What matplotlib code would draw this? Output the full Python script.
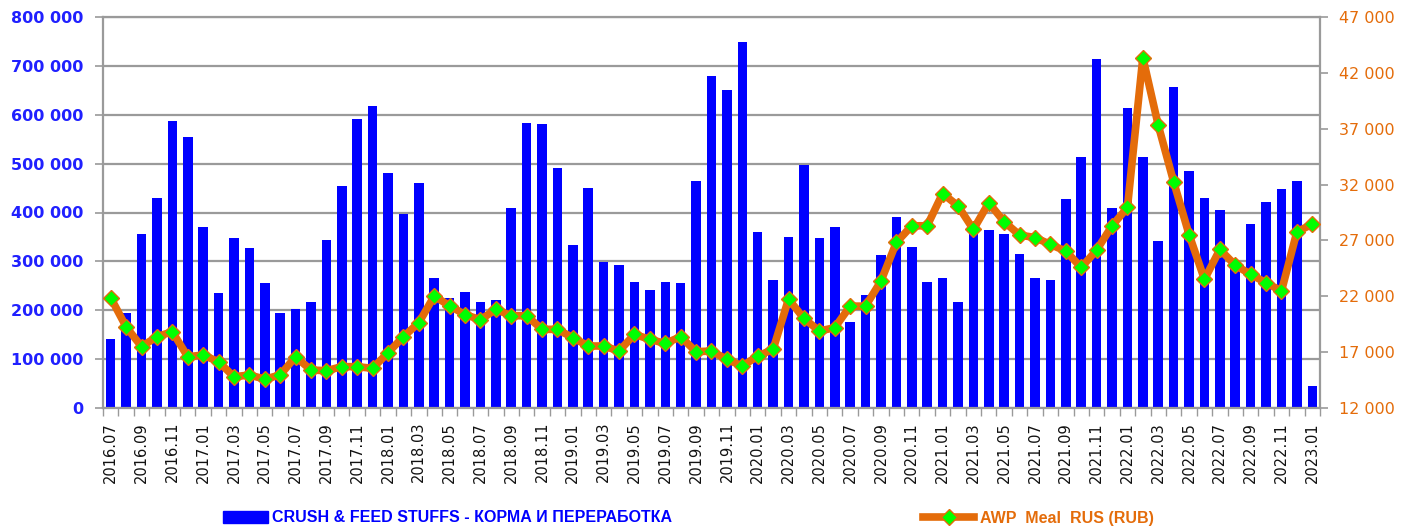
import matplotlib
matplotlib.use("Agg")
import matplotlib.pyplot as plt
from matplotlib.lines import Line2D
from matplotlib.patches import Patch
import numpy as np

months = [f"{2016 + (6 + i) // 12}.{(6 + i) % 12 + 1:02d}" for i in range(79)]

crush_feed = [141000, 194000, 357000, 430000, 588000, 554000, 371000, 235000, 347000, 327000,
              255000, 194000, 202000, 217000, 344000, 454000, 591000, 618000, 481000, 396000,
              461000, 265000, 225000, 238000, 217000, 220000, 410000, 584000, 581000, 492000,
              333000, 450000, 299000, 292000, 258000, 241000, 258000, 255000, 464000, 680000,
              650000, 749000, 361000, 262000, 350000, 498000, 347000, 371000, 176000, 231000,
              313000, 391000, 330000, 258000, 265000, 217000, 364000, 365000, 355000, 316000,
              265000, 262000, 427000, 513000, 715000, 410000, 613000, 513000, 341000, 657000,
              485000, 430000, 406000, 295000, 376000, 421000, 448000, 465000, 46000]

awp_meal = [21870, 19270, 17500, 18380, 18830, 16590, 16740, 16140, 14800, 14950,
            14590, 14950, 16590, 15400, 15340, 15700, 15700, 15550, 16950, 18380,
            19630, 22020, 21150, 20360, 19900, 20830, 20260, 20260, 19040, 19040,
            18290, 17550, 17550, 17100, 18590, 18140, 17780, 18380, 17040, 17100,
            16350, 15760, 16650, 17250, 21750, 20020, 18890, 19190, 21120, 21120,
            23360, 26820, 28310, 28310, 31200, 30100, 27980, 30370, 28670, 27480,
            27260, 26640, 26040, 24580, 26130, 28310, 29950, 43370, 37310, 32250,
            27530, 23510, 26190, 24790, 23960, 23210, 22470, 27770, 28460]

left_ticks = list(range(0, 800001, 100000))
right_ticks = list(range(12000, 47001, 5000))

BLUE = "#0000ff"
ORANGE = "#e46c0a"
GREEN = "#00ff00"
GRID = "#9a9a9a"

def fmt(v):
    return f"{v:,}".replace(",", " ")

fig = plt.figure(figsize=(14.03, 5.26), dpi=100)
ax = fig.add_axes([103 / 1403, 1 - 408 / 526, (1320 - 103) / 1403, (408 - 17) / 526])
x = np.arange(len(months))

ax.bar(x, crush_feed, width=0.62, color=BLUE, zorder=2)
ax.set_xlim(-0.5, len(months) - 0.5)
ax.set_ylim(0, 800000)
ax.set_yticks(left_ticks)
ax.set_yticklabels([fmt(v) for v in left_ticks], color="#2020ff", fontsize=11.5, fontweight="bold")
ax.yaxis.grid(True, color=GRID, linewidth=1.6, zorder=0)
ax.set_axisbelow(True)
ax.tick_params(axis="y", length=6, color=GRID, width=1.2, pad=8)

ax.set_xticks(x[::2])
ax.set_xticklabels(months[::2], rotation=90, fontsize=10.5, color="#111111")
ax.set_xticks(np.arange(-0.5, len(months), 1), minor=True)
ax.tick_params(axis="x", which="major", length=0, pad=10)
ax.tick_params(axis="x", which="minor", length=6, color=GRID, width=1.0)

for s in ["left", "right", "bottom", "top"]:
    ax.spines[s].set_color(GRID)
    ax.spines[s].set_linewidth(1.6)

ax2 = ax.twinx()
ax2.plot(x, awp_meal, color=ORANGE, linewidth=5.5, marker="D", markersize=8.5,
         markerfacecolor=GREEN, markeredgecolor=ORANGE, markeredgewidth=1.0, zorder=3)
ax2.set_ylim(12000, 47000)
ax2.set_yticks(right_ticks)
ax2.set_yticklabels([fmt(v) for v in right_ticks], color=ORANGE, fontsize=11.5)
ax2.tick_params(axis="y", length=6, color=GRID, width=1.2, pad=8)
for s in ["left", "right", "bottom", "top"]:
    ax2.spines[s].set_visible(False)

h1 = Patch(facecolor=BLUE, edgecolor=BLUE)
h2 = Line2D([0], [0], color=ORANGE, linewidth=5.5, marker="D", markersize=8,
            markerfacecolor=GREEN, markeredgecolor=ORANGE)
fig.legend([h1], ["CRUSH & FEED STUFFS - КОРМА И ПЕРЕРАБОТКА"], loc="center left",
           bbox_to_anchor=(215 / 1403, 1 - 518 / 526), frameon=False, handlelength=2.8,
           handleheight=0.8, handletextpad=0.3, borderpad=0,
           prop={"family": "Liberation Sans", "weight": "bold", "size": 11.5}, labelcolor=BLUE)
fig.legend([h2], ["AWP  Meal  RUS (RUB)"], loc="center left",
           bbox_to_anchor=(915 / 1403, 1 - 518 / 526), frameon=False, handlelength=3.2,
           handletextpad=0.4, borderpad=0,
           prop={"family": "Liberation Sans", "weight": "bold", "size": 11.5}, labelcolor=ORANGE)

fig.savefig("out.png", dpi=100, facecolor="white")
